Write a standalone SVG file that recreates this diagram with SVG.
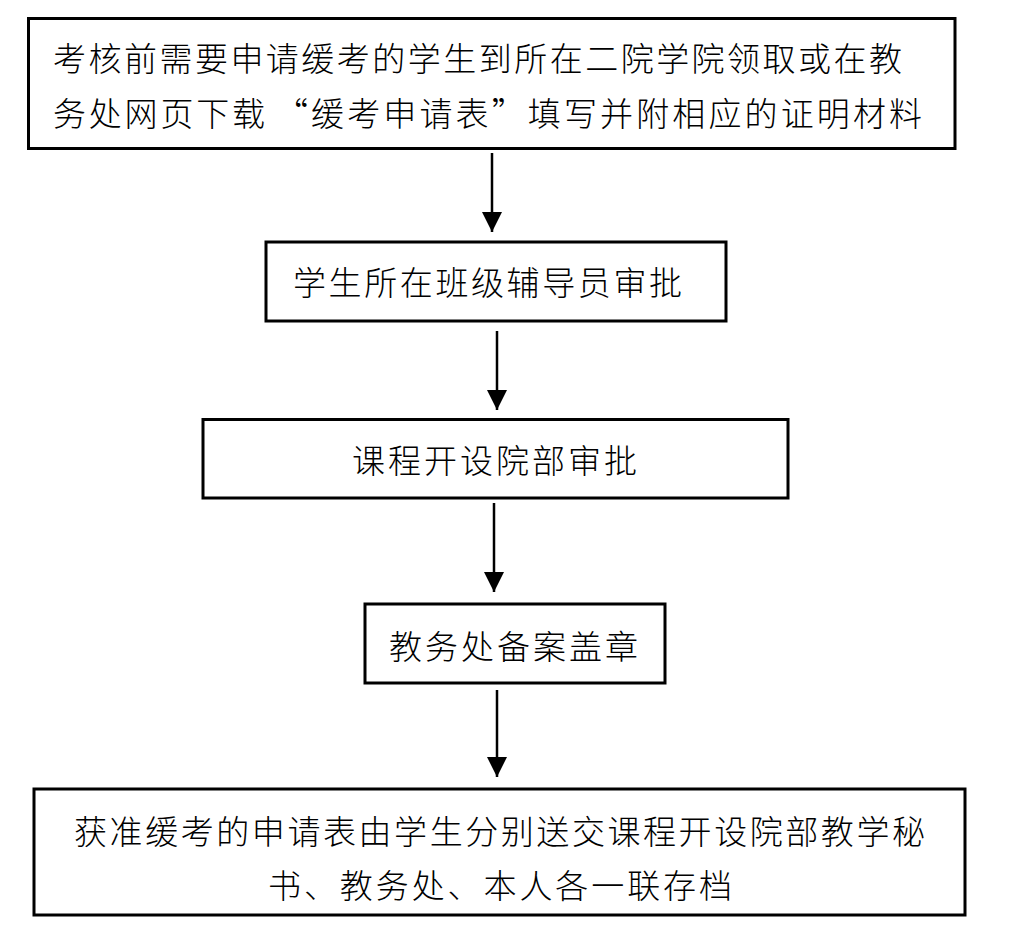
<svg xmlns="http://www.w3.org/2000/svg" width="1024" height="939" viewBox="0 0 1024 939">
<style>
.box{fill:#fff;stroke:#000;stroke-width:3}
.t{font-family:"Noto Sans CJK SC","Noto Sans",sans-serif;font-size:33px;font-weight:300;fill:#000;dominant-baseline:central}
.c{stroke:#000;stroke-width:2.5;fill:none}
</style>
<defs>
<marker id="ah" markerUnits="userSpaceOnUse" markerWidth="20" markerHeight="20" refX="20" refY="10" orient="auto" viewBox="0 0 20 20">
<path d="M0,0 L20,10 L0,20 z" fill="#000"/>
</marker>
</defs>
<rect width="1024" height="939" fill="#fff"/>
<g id="connectors">
<line class="c" x1="492" y1="153" x2="492" y2="232" marker-end="url(#ah)"/>
<line class="c" x1="497" y1="331" x2="497" y2="410" marker-end="url(#ah)"/>
<line class="c" x1="494" y1="503" x2="494" y2="592" marker-end="url(#ah)"/>
<line class="c" x1="497" y1="690" x2="497" y2="777" marker-end="url(#ah)"/>
</g>
<g id="n1">
<rect class="box" x="28.5" y="18.5" width="926.5" height="130"/>
<text class="t" x="53" y="57" textLength="849" lengthAdjust="spacing">考核前需要申请缓考的学生到所在二院学院领取或在教</text>
<text class="t" x="53" y="112" textLength="212" lengthAdjust="spacing">务处网页下载</text>
<text class="t" x="275" y="112" textLength="647" lengthAdjust="spacing">“缓考申请表”填写并附相应的证明材料</text>
</g>
<g id="n2">
<rect class="box" x="266" y="242" width="460" height="79"/>
<text class="t" x="293" y="281" textLength="389" lengthAdjust="spacing">学生所在班级辅导员审批</text>
</g>
<g id="n3">
<rect class="box" x="203" y="419.5" width="585" height="78.5"/>
<text class="t" x="352" y="459" textLength="285" lengthAdjust="spacing">课程开设院部审批</text>
</g>
<g id="n4">
<rect class="box" x="365" y="604" width="300" height="79"/>
<text class="t" x="389" y="645" textLength="249" lengthAdjust="spacing">教务处备案盖章</text>
</g>
<g id="n5">
<rect class="box" x="34" y="789" width="931" height="126"/>
<text class="t" x="74" y="830" textLength="851" lengthAdjust="spacing">获准缓考的申请表由学生分别送交课程开设院部教学秘</text>
<text class="t" x="268" y="884" textLength="464" lengthAdjust="spacing">书、教务处、本人各一联存档</text>
</g>
</svg>
